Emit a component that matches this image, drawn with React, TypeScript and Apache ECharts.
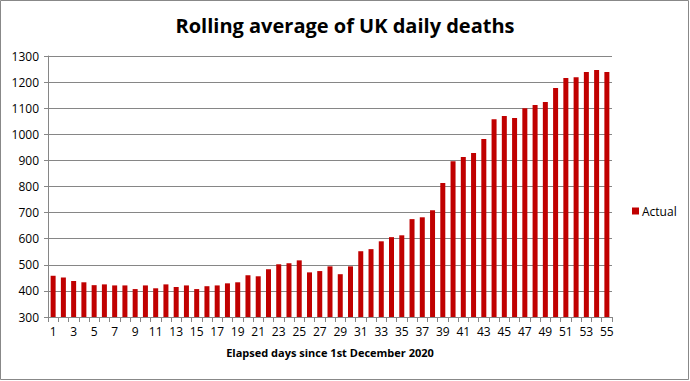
import React, { useEffect, useRef } from "react";
import * as echarts from "echarts";

const days: string[] = Array.from({ length: 55 }, (_, i) => String(i + 1));
const actual: number[] = [
  458, 451, 438, 433, 422, 425, 421, 421, 407, 421,
  410, 425, 415, 421, 407, 418, 421, 429, 433, 460,
  456, 483, 502, 506, 517, 471, 476, 494, 464, 494,
  552, 560, 590, 606, 613, 675, 682, 709, 813, 897,
  913, 928, 982, 1058, 1070, 1062, 1100, 1112, 1124, 1177,
  1216, 1219, 1239, 1246, 1239,
];
const titleText = "Rolling average of UK daily deaths";
const xAxisName = "Elapsed days since 1st December 2020";
const seriesName = "Actual";

export default function App() {
  const ref = useRef<HTMLDivElement>(null);
  useEffect(() => {
    if (!ref.current) return;
    const chart = echarts.init(ref.current, null, { renderer: "svg" });
    chart.setOption({
      animation: false,
      backgroundColor: "#ffffff",
      textStyle: { fontFamily: "Open Sans" },
      title: {
        text: titleText,
        left: "center",
        top: 10,
        textStyle: { fontFamily: "Open Sans", fontSize: 20, fontWeight: "bold", color: "#000" },
      },
      graphic: [
        {
          type: "rect",
          shape: { x: 0.5, y: 0.5, width: 688, height: 379 },
          style: { fill: "none", stroke: "#888888", lineWidth: 1 },
          silent: true,
        },
      ],
      legend: {
        data: [seriesName],
        left: 627,
        top: 200,
        orient: "vertical",
        itemWidth: 7,
        itemHeight: 7,
        itemGap: 4,
        icon: "rect",
        textStyle: { fontSize: 12, color: "#000", fontFamily: "Open Sans", padding: [0, 0, 0, -2] },
      },
      grid: { left: 48, right: 78, top: 56, bottom: 64 },
      xAxis: {
        type: "category",
        data: days,
        name: xAxisName,
        nameLocation: "middle",
        nameGap: 30,
        nameTextStyle: { fontSize: 11, fontWeight: "bold", color: "#000" },
        axisLine: { lineStyle: { color: "#868686" } },
        axisTick: { show: true, interval: 0, length: 5, lineStyle: { color: "#868686" } },
        axisLabel: { interval: 1, color: "#000", fontSize: 12, margin: 8 },
      },
      yAxis: {
        type: "value",
        min: 300,
        max: 1300,
        interval: 100,
        axisLine: { show: true, lineStyle: { color: "#868686" } },
        axisTick: { show: true, length: 4, lineStyle: { color: "#868686" } },
        axisLabel: { color: "#000", fontSize: 12, margin: 9, formatter: (v: number) => String(v) },
        splitLine: { lineStyle: { color: "#868686" } },
      },
      series: [
        {
          name: seriesName,
          type: "bar",
          data: actual,
          barWidth: 5,
          itemStyle: { color: "#C00000" },
        },
      ],
    });
    return () => chart.dispose();
  }, []);
  return (
    <div
      ref={ref}
      style={{ position: "fixed", left: 0, top: 0, width: 690, height: 381 }}
    />
  );
}
